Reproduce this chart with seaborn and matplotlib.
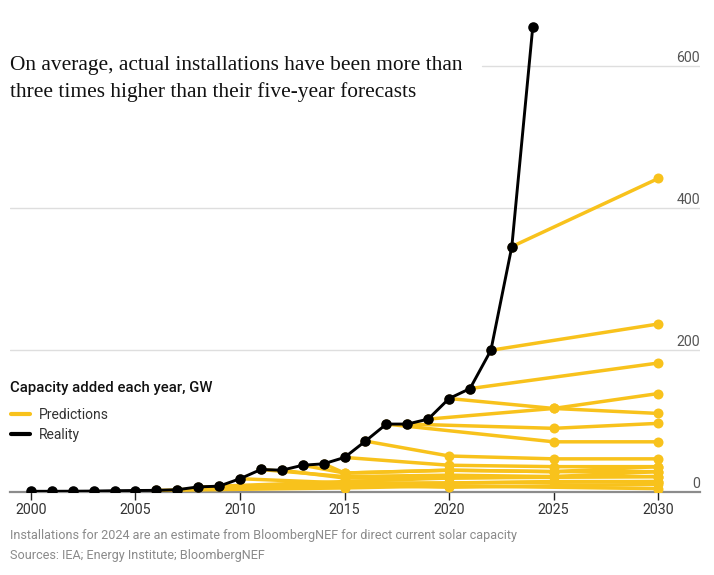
import matplotlib
matplotlib.use("Agg")
import matplotlib.pyplot as plt
import matplotlib.transforms as mtransforms
from matplotlib.lines import Line2D
import seaborn as sns
import pandas as pd

#----------------------------------------------------
# DATA
#----------------------------------------------------

reality_years = list(range(2000, 2025))
reality_gw = [0.3, 0.3, 0.4, 0.6, 1.1, 1.4, 1.6, 2.5, 6.5, 7.5, 18, 31, 30, 37, 39, 48,
              71, 95, 95, 102, 131, 145, 199, 345, 654]

# each forecast starts at the reality point of the year it was issued
forecast_issued = [2006, 2007, 2008, 2009, 2010, 2011, 2012, 2013, 2014, 2015,
                   2016, 2017, 2018, 2019, 2020, 2021, 2022, 2023]
forecast_targets = [
    [2015, 2020, 2030],
    [2015, 2020, 2030],
    [2015, 2020, 2030],
    [2015, 2020, 2030],
    [2015, 2020, 2025, 2030],
    [2015, 2020, 2025, 2030],
    [2015, 2020, 2025, 2030],
    [2015, 2020, 2025, 2030],
    [2015, 2020, 2025, 2030],
    [2020, 2025, 2030],
    [2020, 2025, 2030],
    [2025, 2030],
    [2025, 2030],
    [2025, 2030],
    [2025, 2030],
    [2030],
    [2030],
    [2030],
]
forecast_gw = [
    [5, 8, 4],
    [10, 12, 14],
    [9, 6, 10],
    [14, 19, 21],
    [12, 12, 14, 14],
    [21, 23, 21, 21],
    [19, 19, 21, 28],
    [26, 30, 28, 28],
    [26, 30, 28, 35],
    [37, 35, 35],
    [50, 46, 46],
    [70, 70],
    [89, 96],
    [117, 138],
    [117, 110],
    [181],
    [236],
    [441],
]

y_ticks = [0, 200, 400, 600]
x_ticks = [2000, 2005, 2010, 2015, 2020, 2025, 2030]

title_lines = ["On average, actual installations have been more than",
               "three times higher than their five-year forecasts"]
subtitle_text = "Capacity added each year, GW"
legend_labels = ["Predictions", "Reality"]
note_text = "Installations for 2024 are an estimate from BloombergNEF for direct current solar capacity"
source_text = "Sources: IEA; Energy Institute; BloombergNEF"

YELLOW = "#F8C21C"
BLACK = "#000000"

#----------------------------------------------------
# build dataframes
#----------------------------------------------------

df_reality = pd.DataFrame({"year": reality_years, "gw": reality_gw})

rows = []
for issued, targets, values in zip(forecast_issued, forecast_targets, forecast_gw):
    start = reality_gw[reality_years.index(issued)]
    rows.append({"forecast": issued, "year": issued, "gw": start})
    for t, v in zip(targets, values):
        rows.append({"forecast": issued, "year": t, "gw": v})
df_forecast = pd.DataFrame(rows)

#----------------------------------------------------
# plot
#----------------------------------------------------

sns.set_theme(style="white")
plt.rcParams["font.family"] = ["Roboto", "DejaVu Sans"]

fig = plt.figure(figsize=(7.14, 5.75), dpi=100)
ax = fig.add_axes([10 / 714, 1 - 491.5 / 575, 690 / 714, 472 / 575])

# gridlines (the top one stops short of the title)
for v in y_ticks[1:]:
    xmin = 0.684 if v == 600 else 0.0
    ax.axhline(v, xmin=xmin, xmax=1, color="#dedede", lw=1, zorder=0)

sns.lineplot(data=df_forecast, x="year", y="gw", units="forecast", estimator=None,
             color=YELLOW, lw=2.5, marker="o", markersize=7.2, markeredgewidth=0,
             solid_capstyle="round", ax=ax, zorder=2, legend=False)
sns.lineplot(data=df_reality, x="year", y="gw", color=BLACK, lw=2.1,
             marker="o", markersize=7.6, markeredgewidth=0, ax=ax, zorder=3, legend=False)

ax.set_xlim(1999.0, 2032.0)
ax.set_ylim(0, 665)
ax.set_xlabel("")
ax.set_ylabel("")
ax.set_xticks(x_ticks)
ax.set_xticklabels([str(x) for x in x_ticks])
ax.set_yticks([])
ax.tick_params(axis="x", length=5.5, width=1, color="#222222", pad=2.5,
               labelsize=10.2, labelcolor="#333333", bottom=True)

for s in ["top", "left", "right"]:
    ax.spines[s].set_visible(False)
ax.spines["bottom"].set_color("#8c8c8c")
ax.spines["bottom"].set_linewidth(1.6)
ax.spines["bottom"].set_zorder(1)

# y labels sit just above the gridlines, right aligned
trans = mtransforms.blended_transform_factory(ax.transAxes, ax.transData)
offset = mtransforms.ScaledTranslation(0, 0.5 / 100, fig.dpi_scale_trans)
for v in y_ticks:
    ax.text(1.0, v, str(v), transform=trans + offset, ha="right", va="bottom",
            fontsize=10.2, color="#555555")

# title, one baseline per line
for i, line in enumerate(title_lines):
    fig.text(10 / 714, 1 - (70 + 27.5 * i) / 575, line, ha="left", va="baseline",
             family="Liberation Serif", fontsize=15.4, color="#111111")

# subtitle and legend
fig.text(10 / 714, 1 - 388 / 575, subtitle_text, ha="left", va="center",
         fontsize=10.7, fontweight="medium", color="#111111")
handles = [Line2D([0], [0], color=YELLOW, lw=3, solid_capstyle="round"),
           Line2D([0], [0], color=BLACK, lw=3, solid_capstyle="round")]
fig.legend(handles, legend_labels, loc="upper left", bbox_to_anchor=(11 / 714, 1 - 408 / 575),
           bbox_transform=fig.transFigure, frameon=False, fontsize=10, labelcolor="#333333",
           handlelength=1.4, handletextpad=0.6, labelspacing=0.45, borderpad=0, borderaxespad=0)

# notes
fig.text(10 / 714, 1 - 535 / 575, note_text, ha="left", va="center", fontsize=9.1, color="#8a8a8a")
fig.text(10 / 714, 1 - 555 / 575, source_text, ha="left", va="center", fontsize=9.1, color="#8a8a8a")

fig.savefig("out.png", dpi=100)
